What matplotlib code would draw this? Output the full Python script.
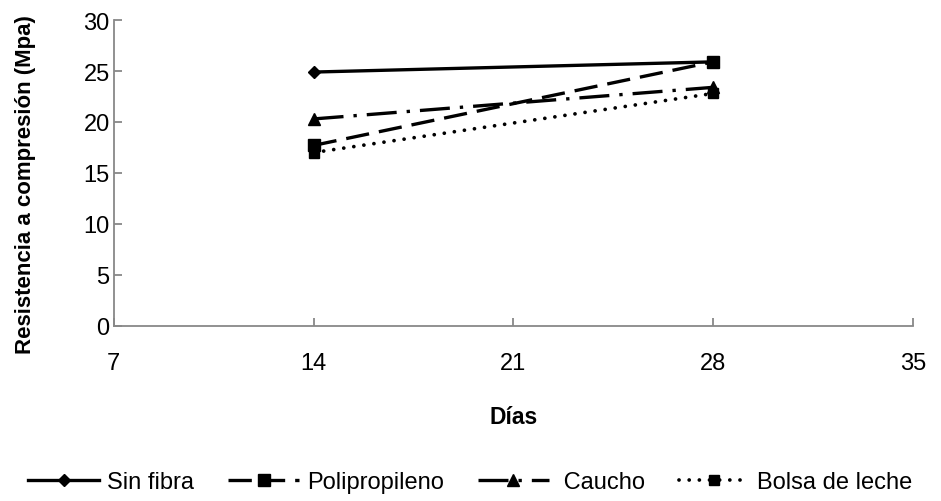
import matplotlib.pyplot as plt

plt.rcParams['font.family'] = ['Liberation Sans', 'DejaVu Sans']

# datos
dias = [14, 28]
sin_fibra = [24.9, 25.9]
polipropileno = [17.7, 25.9]
caucho = [20.3, 23.4]
bolsa_leche = [17.0, 22.8]

fig = plt.figure(figsize=(9.41, 5.02), dpi=100)
ax = fig.add_axes([0.121, 0.349, 0.849, 0.609])

ax.plot(dias, sin_fibra, color='black', lw=2.4, ls='-', marker='D', ms=6.5,
        label='Sin fibra')
ax.plot(dias, polipropileno, color='black', lw=2.4, ls=(0, (7, 3)),
        marker='s', ms=9, label='Polipropileno')
ax.plot(dias, caucho, color='black', lw=2.4, ls=(0, (9, 3, 1, 3)), marker='^', ms=8,
        label=' Caucho')
ax.plot(dias, bolsa_leche, color='black', lw=2.7, ls=(0, (0.01, 2.7)),
        dash_capstyle='round', marker='s', ms=7, label='Bolsa de leche')

ax.set_xlim(7, 35)
ax.set_ylim(0, 30)
ax.set_xticks([7, 14, 21, 28, 35])
ax.set_yticks(range(0, 31, 5))

for s in ['top', 'right']:
    ax.spines[s].set_visible(False)
for s in ['left', 'bottom']:
    ax.spines[s].set_color('#888888')
    ax.spines[s].set_linewidth(1.3)
ax.tick_params(direction='in', length=6, width=1.3, color='#888888',
               labelsize=17)
ax.tick_params(axis='y', pad=3)
ax.tick_params(axis='x', pad=19)

ax.set_xlabel('Días', fontsize=16.5, fontweight='bold')
ax.set_ylabel('Resistencia a compresión (Mpa)', fontsize=16, fontweight='bold')
ax.xaxis.label.set_va('center')
ax.xaxis.set_label_coords(0.5, -0.297)
ax.yaxis.label.set_va('center')
ax.yaxis.set_label_coords(-0.11, 0.464)

fig.legend(loc='center', bbox_to_anchor=(0.5, 0.038), ncol=4, frameon=False,
           fontsize=17, handlelength=3.0, handletextpad=0.33, columnspacing=1.45,
           borderaxespad=0)

fig.savefig('out.png', dpi=100)
